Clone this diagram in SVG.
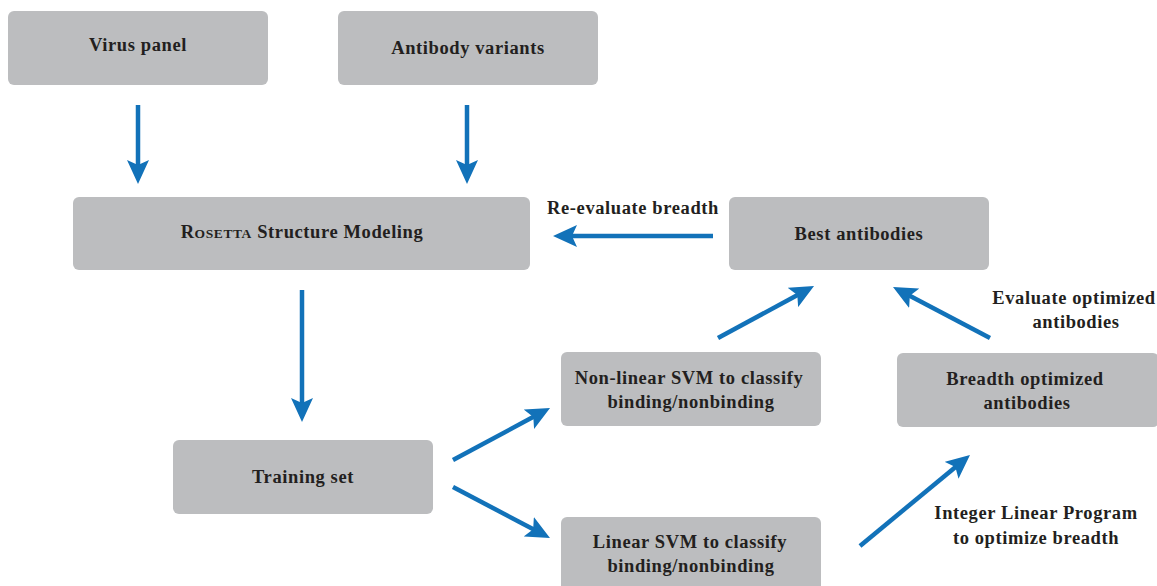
<svg xmlns="http://www.w3.org/2000/svg" width="1157" height="586" viewBox="0 0 1157 586">
<style>
.box{fill:#bcbdbf;}
.t{font-family:'Liberation Serif','Times New Roman',Times,serif;font-weight:700;font-size:18.5px;letter-spacing:0.6px;fill:#231f20;text-anchor:middle;}
.c{stroke:#1272b9;stroke-width:4.5;fill:none;marker-end:url(#ah);}
</style>
<defs>
<marker id="ah" viewBox="0 0 24 22" markerWidth="24" markerHeight="22" refX="10" refY="11" orient="auto" markerUnits="userSpaceOnUse">
<path d="M0,0 L24,11 L0,22 L5,11 z" fill="#1272b9"/>
</marker>
</defs>
<rect width="1157" height="586" fill="#ffffff"/>
<g id="virus-panel"><rect class="box" x="8" y="11" width="260" height="74" rx="6"/><text class="t" x="138" y="51">Virus panel</text></g>
<g id="antibody-variants"><rect class="box" x="338" y="11" width="260" height="74" rx="6"/><text class="t" x="468" y="54">Antibody variants</text></g>
<g id="rosetta"><rect class="box" x="73" y="197" width="457" height="73" rx="6"/><text class="t" x="302" y="238">R<tspan font-size="13.5">OSETTA</tspan> Structure Modeling</text></g>
<g id="best-antibodies"><rect class="box" x="729" y="197" width="260" height="73" rx="6"/><text class="t" x="859" y="240">Best antibodies</text></g>
<g id="nonlinear-svm"><rect class="box" x="561" y="352" width="260" height="74" rx="6"/><text class="t" x="689" y="384">Non-linear SVM to classify</text><text class="t" x="691" y="408">binding/nonbinding</text></g>
<g id="breadth-optimized"><rect class="box" x="897" y="353" width="262" height="74" rx="6"/><text class="t" x="1025" y="385">Breadth optimized</text><text class="t" x="1027" y="409">antibodies</text></g>
<g id="training-set"><rect class="box" x="173" y="440" width="260" height="74" rx="6"/><text class="t" x="303" y="483">Training set</text></g>
<g id="linear-svm"><rect class="box" x="561" y="517" width="260" height="80" rx="6"/><text class="t" x="690" y="548">Linear SVM to classify</text><text class="t" x="691" y="572">binding/nonbinding</text></g>
<g id="labels">
<text class="t" x="633" y="214">Re-evaluate breadth</text>
<text class="t" x="1074" y="304">Evaluate optimized</text>
<text class="t" x="1076" y="328">antibodies</text>
<text class="t" x="1036" y="519">Integer Linear Program</text>
<text class="t" x="1036" y="544">to optimize breadth</text>
</g>
<g id="connectors">
<line class="c" x1="138" y1="105" x2="138" y2="170"/>
<line class="c" x1="467" y1="105" x2="467" y2="170"/>
<line class="c" x1="302" y1="290" x2="302" y2="408"/>
<line class="c" x1="713" y1="236" x2="567" y2="236"/>
<line class="c" x1="453" y1="460" x2="537.7" y2="414.6"/>
<line class="c" x1="453" y1="487" x2="537.6" y2="531.5"/>
<line class="c" x1="718" y1="338" x2="801.7" y2="292.7"/>
<line class="c" x1="990" y1="338" x2="905.4" y2="293.5"/>
<line class="c" x1="860" y1="546" x2="959.2" y2="463.9"/>
</g>
</svg>
